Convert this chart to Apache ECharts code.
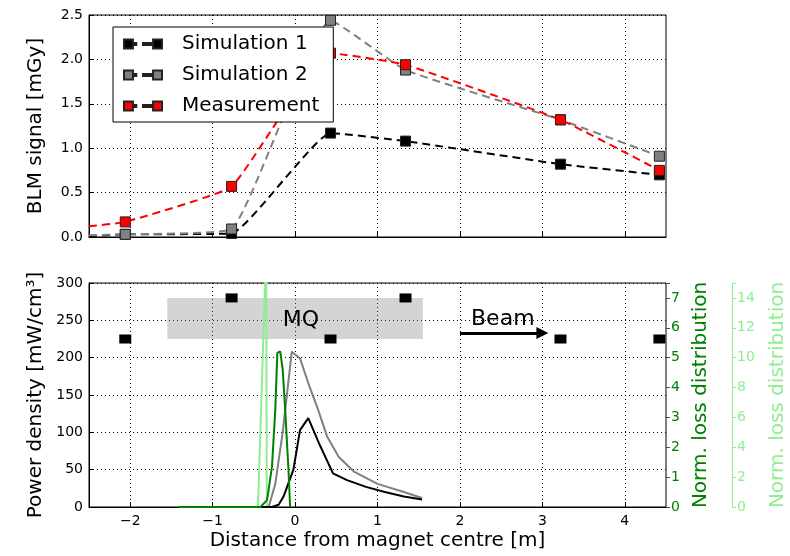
<!DOCTYPE html>
<html>
<head>
<meta charset="utf-8">
<script src="https://cdn.jsdelivr.net/npm/echarts@6/dist/echarts.min.js"></script>
<style>
html, body { margin: 0; padding: 0; background: #fff; }
#main { width: 790px; height: 556px; }
</style>
</head>
<body>
<div id="main"></div>
<script>
// BLM positions along the beam line [m]
var blmPos = [-2.06, -0.77, 0.43, 1.34, 3.22, 4.42];
// BLM signal [mGy]
var sim1 = [0.03, 0.04, 1.17, 1.08, 0.82, 0.70];
var sim2 = [0.03, 0.09, 2.44, 1.88, 1.32, 0.91];
var meas = [0.17, 0.57, 2.07, 1.94, 1.32, 0.75];
// where the dashed curves come in at the left edge
var edgeX = -2.5;
var sim1Edge = 0.01, sim2Edge = 0.02, measEdge = 0.12;
// BLM marker heights in the lower panel
var blmHeight = [225, 280, 225, 280, 225, 225];

// power density [mW/cm3]
var pd1X = [-1.42, -0.28, -0.2, -0.14, -0.02, 0.06, 0.16, 0.3, 0.46, 0.63, 0.86, 1.09, 1.32, 1.54];
var pd1 = [0, 0, 3, 14, 50, 103, 119, 83, 45, 36, 27, 20, 14, 10];
var pd2X = [-1.42, -0.32, -0.24, -0.15, -0.04, 0.06, 0.16, 0.28, 0.39, 0.53, 0.72, 1.0, 1.32, 1.54];
var pd2 = [0, 0, 31, 100, 208, 199, 166, 130, 94, 67, 47, 31, 20, 12];
// norm. loss distributions
var lossX = [-1.42, -0.42, -0.34, -0.28, -0.24, -0.215, -0.18, -0.15, -0.12, -0.08, -0.06];
var loss = [0, 0, 0.23, 1.35, 3.26, 5.16, 5.21, 4.6, 3.26, 1.24, 0];
var loss2X = [-1.42, -0.45, -0.35, -0.343];
var loss2 = [0, 0, 17.5, 0];

// tick labels
var xTicks = [-2, -1, 0, 1, 2, 3, 4];

var FONT = 'DejaVu Sans';
var GREEN = '#008000', LIGHT = '#90ee90';

function zip(xs, ys) {
  return xs.map(function (x, i) { return [x, ys[i]]; });
}
function withEdge(ys, e) {
  var d = [{ value: [edgeX, e], symbol: 'none' }];
  return d.concat(zip(blmPos, ys));
}
function minus(v) { return String(v).replace('-', '\u2212'); }

var legendIcon = 'path://M0,0h8v8h-8z M8,3.2h3v1.6h-3z M17,3.2h9v1.6h-9z M26,0h8v8h-8z';

var chart = echarts.init(document.getElementById('main'));

var dotted = { show: true, lineStyle: { color: '#000', type: [1, 3], width: 1 } };
var tickIn = { show: true, inside: true, length: 5, lineStyle: { color: '#000' } };
var blackLine = { show: true, onZero: false, lineStyle: { color: '#000' } };

function topLine(name, ys, e, color) {
  return {
    name: name, type: 'line', xAxisIndex: 0, yAxisIndex: 0,
    data: withEdge(ys, e), smooth: 0.12,
    symbol: 'rect', symbolSize: [10, 10],
    lineStyle: { color: color, width: 2, type: [8, 5] },
    itemStyle: { color: color, borderColor: '#222', borderWidth: 1 }
  };
}

var option = {
  animation: false,
  backgroundColor: '#fff',
  textStyle: { fontFamily: FONT },
  grid: [
    { left: 89, right: 124, top: 15, height: 222, show: true, borderColor: '#000', borderWidth: 1, outerBoundsMode: 'none', containLabel: false },
    { left: 89, right: 124, top: 283, height: 224, show: true, borderColor: '#000', borderWidth: 1, outerBoundsMode: 'none', containLabel: false }
  ],
  legend: {
    data: ['Simulation 1', 'Simulation 2', 'Measurement'],
    orient: 'vertical', left: 113, top: 27,
    padding: [6, 14, 5, 10], itemGap: 9,
    itemWidth: 38, itemHeight: 9, icon: legendIcon,
    backgroundColor: '#fff', borderColor: '#000', borderWidth: 1,
    textStyle: { fontFamily: FONT, fontSize: 20, color: '#000', lineHeight: 22, padding: [0, 0, 0, 15] }
  },
  xAxis: [
    {
      gridIndex: 0, type: 'value', min: -2.5, max: 4.5,
      axisLine: blackLine,
      axisTick: Object.assign({ customValues: xTicks }, tickIn),
      axisLabel: { show: false, customValues: xTicks },
      splitLine: dotted
    },
    {
      gridIndex: 1, type: 'value', min: -2.5, max: 4.5,
      name: 'Distance from magnet centre [m]', nameLocation: 'middle', nameGap: 24,
      nameTextStyle: { fontFamily: FONT, fontSize: 20, color: '#000' },
      axisLine: blackLine,
      axisTick: Object.assign({ customValues: xTicks }, tickIn),
      axisLabel: { customValues: xTicks, formatter: minus, fontFamily: FONT, fontSize: 14, color: '#000', margin: 7 },
      splitLine: dotted
    }
  ],
  yAxis: [
    {
      gridIndex: 0, type: 'value', min: 0, max: 2.5, interval: 0.5,
      name: 'BLM signal [mGy]', nameLocation: 'middle', nameGap: 43, nameRotate: 90,
      nameTextStyle: { fontFamily: FONT, fontSize: 20, color: '#000' },
      axisLine: blackLine,
      axisTick: tickIn,
      axisLabel: { formatter: function (v) { return v.toFixed(1); }, fontFamily: FONT, fontSize: 14, color: '#000', margin: 6 },
      splitLine: dotted
    },
    {
      gridIndex: 1, type: 'value', min: 0, max: 300, interval: 50,
      name: 'Power density [mW/cm\u00b3]', nameLocation: 'middle', nameGap: 43, nameRotate: 90,
      nameTextStyle: { fontFamily: FONT, fontSize: 20, color: '#000' },
      axisLine: blackLine,
      axisTick: tickIn,
      axisLabel: { fontFamily: FONT, fontSize: 14, color: '#000', margin: 6 },
      splitLine: dotted
    },
    {
      gridIndex: 1, type: 'value', position: 'right', min: 0, max: 7.5, interval: 1,
      name: 'Norm. loss distribution', nameLocation: 'middle', nameGap: 22, nameRotate: 90,
      nameTextStyle: { fontFamily: FONT, fontSize: 20, color: GREEN },
      axisLine: { show: false, onZero: false },
      axisTick: { show: true, length: 4, lineStyle: { color: GREEN } },
      axisLabel: { formatter: function (v) { return Number.isInteger(v) ? v : ''; }, fontFamily: FONT, fontSize: 14, color: GREEN, margin: 5 },
      splitLine: { show: false }
    },
    {
      gridIndex: 1, type: 'value', position: 'right', offset: 66, min: 0, max: 15, interval: 2,
      name: 'Norm. loss distribution', nameLocation: 'middle', nameGap: 36, nameRotate: 90,
      nameTextStyle: { fontFamily: FONT, fontSize: 20, color: LIGHT },
      axisLine: { show: true, onZero: false, lineStyle: { color: LIGHT } },
      axisTick: { show: true, length: 4, lineStyle: { color: LIGHT } },
      axisLabel: { formatter: function (v) { return v % 2 === 0 ? v : ''; }, fontFamily: FONT, fontSize: 14, color: LIGHT, margin: 5 },
      splitLine: { show: false }
    }
  ],
  series: [
    topLine('Simulation 1', sim1, sim1Edge, '#000000'),
    topLine('Simulation 2', sim2, sim2Edge, '#808080'),
    topLine('Measurement', meas, measEdge, '#ff0000'),
    {
      name: 'magnet', type: 'scatter', xAxisIndex: 1, yAxisIndex: 1,
      data: zip(blmPos, blmHeight),
      symbol: 'rect', symbolSize: [12, 9],
      itemStyle: { color: '#000', opacity: 1 }, z: 5,
      markArea: {
        silent: true,
        itemStyle: { color: 'rgba(128,128,128,0.34)' },
        data: [[{ coord: [-1.55, 225] }, { coord: [1.55, 280] }]]
      },
      markLine: {
        silent: true, symbol: ['none', 'triangle'], symbolSize: [12, 12],
        lineStyle: { color: '#000', width: 3, type: 'solid' },
        label: { show: false },
        data: [[{ coord: [2.0, 233] }, { coord: [3.0, 233] }]]
      },
      markPoint: {
        silent: true, symbol: 'rect', symbolSize: 1,
        itemStyle: { color: 'rgba(0,0,0,0)' },
        label: { show: true, position: 'inside', fontFamily: FONT, fontSize: 22, color: '#000' },
        data: [
          { coord: [0.07, 250], label: { formatter: 'MQ' } },
          { coord: [2.52, 252], label: { formatter: 'Beam' } }
        ]
      }
    },
    {
      name: 'loss2', type: 'line', xAxisIndex: 1, yAxisIndex: 3,
      data: zip(loss2X, loss2), showSymbol: false,
      lineStyle: { color: LIGHT, width: 2 }, itemStyle: { color: LIGHT }
    },
    {
      name: 'pd2', type: 'line', xAxisIndex: 1, yAxisIndex: 1,
      data: zip(pd2X, pd2), showSymbol: false,
      lineStyle: { color: '#808080', width: 2 }, itemStyle: { color: '#808080' }
    },
    {
      name: 'pd1', type: 'line', xAxisIndex: 1, yAxisIndex: 1,
      data: zip(pd1X, pd1), showSymbol: false,
      lineStyle: { color: '#000', width: 2 }, itemStyle: { color: '#000' }
    },
    {
      name: 'loss', type: 'line', xAxisIndex: 1, yAxisIndex: 2,
      data: zip(lossX, loss), showSymbol: false,
      lineStyle: { color: GREEN, width: 2 }, itemStyle: { color: GREEN }
    }
  ]
};

chart.setOption(option);
</script>
</body>
</html>
